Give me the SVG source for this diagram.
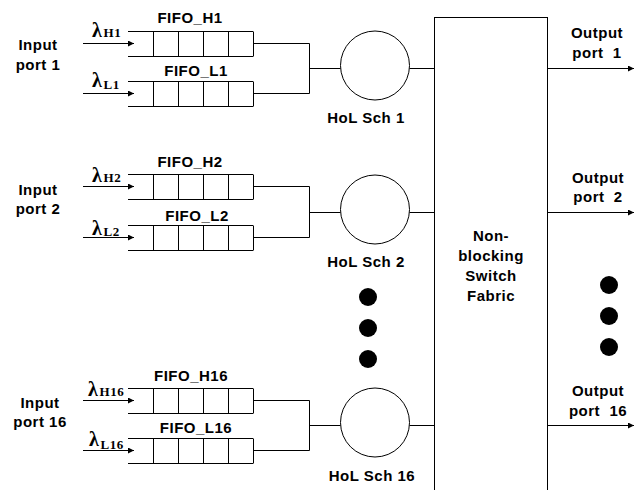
<svg xmlns="http://www.w3.org/2000/svg" width="640" height="490" viewBox="0 0 640 490">
<defs>
<style>
.t{font-family:"Liberation Sans",Arial,sans-serif;font-weight:bold;font-size:15px;letter-spacing:0.5px;fill:#000;text-anchor:middle;white-space:pre}
.lam{font-family:"Liberation Serif","Times New Roman",serif;font-weight:bold;font-size:20px;fill:#000}
.sub{font-family:"Liberation Serif","Times New Roman",serif;font-weight:bold;font-size:13px;letter-spacing:0.6px;fill:#000}
.ln{stroke:#000;stroke-width:1;fill:none}
.q{stroke:#000;stroke-width:1;fill:none}
.dot{fill:#000}
</style>
<marker id="ah" markerUnits="userSpaceOnUse" markerWidth="7" markerHeight="7" refX="6" refY="3" orient="auto">
<path d="M0,0 L6,3 L0,6 z" fill="#000"/>
</marker>
<g id="queue">
<path class="q" d="M128,0.5 H253 M128,25.5 H253 M153.5,0.5 V25.5 M178.5,0.5 V25.5 M203.5,0.5 V25.5 M228.5,0.5 V25.5 M253.5,0.5 V25.5"/>
</g>
</defs>
<rect width="640" height="490" fill="#fff"/>

<!-- Input port labels -->
<g id="in1"><text class="t" x="38" y="50">Input</text><text class="t" x="38" y="70">port 1</text></g>
<g id="in2"><text class="t" x="38" y="195">Input</text><text class="t" x="38" y="214">port 2</text></g>
<g id="in16"><text class="t" x="40" y="408">Input</text><text class="t" x="40" y="427">port 16</text></g>

<!-- FIFOs -->
<g id="fifo_h1"><use href="#queue" y="31"/><text class="t" x="190" y="23">FIFO_H1</text></g>
<g id="fifo_l1"><use href="#queue" y="81"/><text class="t" x="196" y="76">FIFO_L1</text></g>
<g id="fifo_h2"><use href="#queue" y="174"/><text class="t" x="190" y="167">FIFO_H2</text></g>
<g id="fifo_l2"><use href="#queue" y="225"/><text class="t" x="197" y="221">FIFO_L2</text></g>
<g id="fifo_h16"><use href="#queue" y="388"/><text class="t" x="191" y="381">FIFO_H16</text></g>
<g id="fifo_l16"><use href="#queue" y="438"/><text class="t" x="196" y="433">FIFO_L16</text></g>

<!-- Lambda labels -->
<g id="lam_h1"><text class="lam" x="92" y="37">λ</text><text class="sub" x="103.5" y="37">H1</text></g>
<g id="lam_l1"><text class="lam" x="92" y="87">λ</text><text class="sub" x="103.5" y="89">L1</text></g>
<g id="lam_h2"><text class="lam" x="92" y="182">λ</text><text class="sub" x="103.5" y="182">H2</text></g>
<g id="lam_l2"><text class="lam" x="92" y="235">λ</text><text class="sub" x="103.5" y="236">L2</text></g>
<g id="lam_h16"><text class="lam" x="88" y="396">λ</text><text class="sub" x="99.5" y="396">H16</text></g>
<g id="lam_l16"><text class="lam" x="89" y="446">λ</text><text class="sub" x="100.5" y="449">L16</text></g>

<!-- Schedulers -->
<g id="hol1"><circle class="ln" cx="375" cy="65.5" r="34.5"/><text class="t" x="366" y="123">HoL Sch 1</text></g>
<g id="hol2"><circle class="ln" cx="375" cy="209.5" r="34.5"/><text class="t" x="366" y="267">HoL Sch 2</text></g>
<g id="hol16"><circle class="ln" cx="375" cy="422.5" r="34.5"/><text class="t" x="372" y="481">HoL Sch 16</text></g>

<!-- Switch fabric -->
<g id="fabric">
<rect class="ln" x="434.5" y="17.5" width="113" height="480"/>
<text class="t" x="491" y="241">Non-</text>
<text class="t" x="491" y="261">blocking</text>
<text class="t" x="491" y="281">Switch</text>
<text class="t" x="491" y="301">Fabric</text>
</g>

<!-- Output labels -->
<g id="out1"><text class="t" x="597" y="38">Output</text><text class="t" x="597" y="58">port  1</text></g>
<g id="out2"><text class="t" x="598" y="183">Output</text><text class="t" x="598" y="202">port  2</text></g>
<g id="out16"><text class="t" x="598" y="396">Output</text><text class="t" x="598" y="416">port  16</text></g>

<!-- Ellipsis dots -->
<g id="dots_left"><circle class="dot" cx="368" cy="297" r="9"/><circle class="dot" cx="368" cy="328" r="9"/><circle class="dot" cx="368" cy="359" r="9"/></g>
<g id="dots_right"><circle class="dot" cx="609" cy="285" r="9"/><circle class="dot" cx="609" cy="316" r="9"/><circle class="dot" cx="609" cy="347" r="9"/></g>

<!-- Connectors -->
<g id="connectors">
<line class="ln" x1="83" y1="43.5" x2="134" y2="43.5" marker-end="url(#ah)"/>
<line class="ln" x1="83" y1="93.5" x2="134" y2="93.5" marker-end="url(#ah)"/>
<line class="ln" x1="83" y1="186.5" x2="134" y2="186.5" marker-end="url(#ah)"/>
<line class="ln" x1="83" y1="237.5" x2="134" y2="237.5" marker-end="url(#ah)"/>
<line class="ln" x1="83" y1="400.5" x2="134" y2="400.5" marker-end="url(#ah)"/>
<line class="ln" x1="83" y1="450.5" x2="134" y2="450.5" marker-end="url(#ah)"/>

<path class="ln" d="M253,43.5 H309.5 V93.5 H253 M309.5,68.5 H340.5"/>
<path class="ln" d="M253,186.5 H309.5 V237.5 H253 M309.5,212.5 H340.5"/>
<path class="ln" d="M253,400.5 H309.5 V450.5 H253 M309.5,425.5 H340.5"/>

<line class="ln" x1="409.5" y1="68.5" x2="434.5" y2="68.5"/>
<line class="ln" x1="409.5" y1="212.5" x2="434.5" y2="212.5"/>
<line class="ln" x1="409.5" y1="425.5" x2="434.5" y2="425.5"/>

<line class="ln" x1="547.5" y1="68.5" x2="634" y2="68.5" marker-end="url(#ah)"/>
<line class="ln" x1="547.5" y1="212.5" x2="634" y2="212.5" marker-end="url(#ah)"/>
<line class="ln" x1="547.5" y1="425.5" x2="634" y2="425.5" marker-end="url(#ah)"/>
</g>
</svg>
